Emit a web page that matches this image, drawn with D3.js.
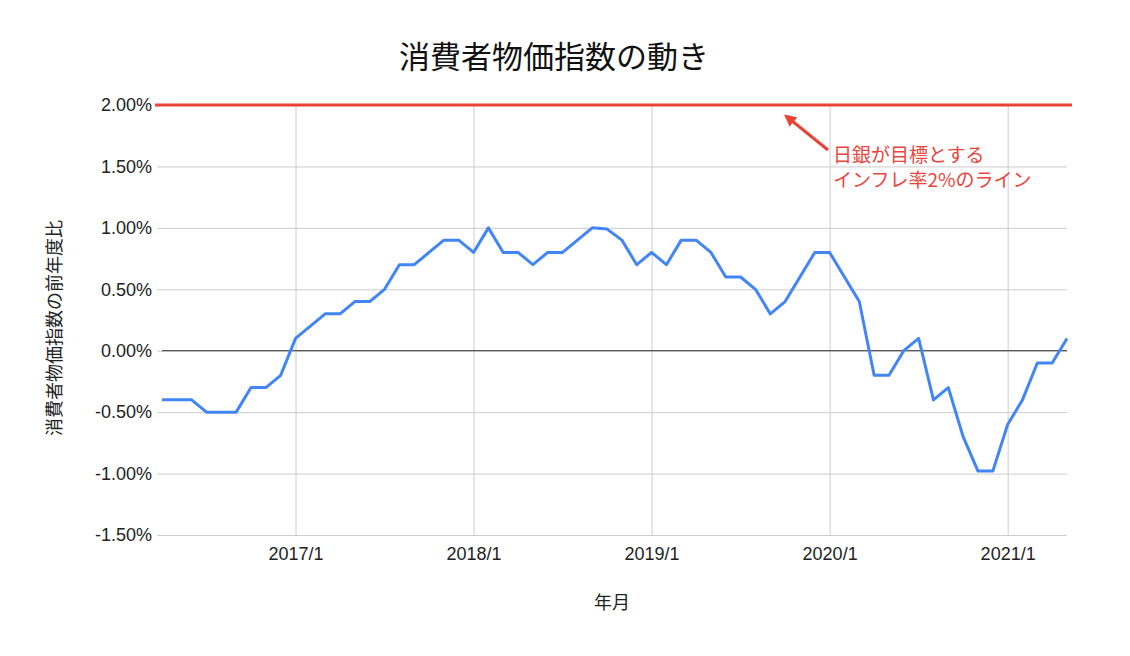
<!doctype html>
<html lang="ja">
<head>
<meta charset="utf-8">
<title>消費者物価指数の動き</title>
<script src="https://cdn.jsdelivr.net/npm/d3@7"></script>
<style>
  body { margin: 0; background: #fff; }
  text { font-family: "Liberation Sans", Arial, "Noto Sans CJK JP", sans-serif; }
  .jp { font-family: "Noto Sans CJK JP", sans-serif; }
</style>
</head>
<body>
<script>

// Data
var months = ["2016/4","2016/5","2016/6","2016/7","2016/8","2016/9","2016/10","2016/11","2016/12",
  "2017/1","2017/2","2017/3","2017/4","2017/5","2017/6","2017/7","2017/8","2017/9","2017/10","2017/11","2017/12",
  "2018/1","2018/2","2018/3","2018/4","2018/5","2018/6","2018/7","2018/8","2018/9","2018/10","2018/11","2018/12",
  "2019/1","2019/2","2019/3","2019/4","2019/5","2019/6","2019/7","2019/8","2019/9","2019/10","2019/11","2019/12",
  "2020/1","2020/2","2020/3","2020/4","2020/5","2020/6","2020/7","2020/8","2020/9","2020/10","2020/11","2020/12",
  "2021/1","2021/2","2021/3","2021/4","2021/5"];
var cpi = [-0.4,-0.4,-0.4,-0.5,-0.5,-0.5,-0.3,-0.3,-0.2,
  0.1,0.2,0.3,0.3,0.4,0.4,0.5,0.7,0.7,0.8,0.9,0.9,
  0.8,1.0,0.8,0.8,0.7,0.8,0.8,0.9,1.0,0.99,0.9,0.7,
  0.8,0.7,0.9,0.9,0.8,0.6,0.6,0.5,0.3,0.4,0.6,0.8,
  0.8,0.6,0.4,-0.2,-0.2,0.0,0.1,-0.4,-0.3,-0.7,-0.98,-0.98,
  -0.6,-0.4,-0.1,-0.1,0.1];
var target = 2.0;
var yTicks = [-1.5,-1.0,-0.5,0,0.5,1.0,1.5,2.0];
var xTicks = ["2017/1","2018/1","2019/1","2020/1","2021/1"];

var title = "消費者物価指数の動き";
var yTitle = "消費者物価指数の前年度比";
var xTitle = "年月";
var note = ["日銀が目標とする", "インフレ率2%のライン"];

// month string -> month count (evenly spaced like the original)
var monthIndex = function(s) {
  var p = s.split("/");
  return (+p[0]) * 12 + (+p[1] - 1);
};
var dataset = months.map(function(m, i) { return {m: monthIndex(m), value: cpi[i]}; });

// Graphics
var width = 1130, height = 656;
var plot = {left: 162, right: 1067, top: 105, bottom: 535};

var svg = d3.select("body").append("svg")
  .attr("width", width)
  .attr("height", height);

var xScale = d3.scaleLinear()
  .domain(d3.extent(dataset, function(d) { return d.m; }))
  .range([plot.left, plot.right]);

var yScale = d3.scaleLinear()
  .domain([-1.5, 2.0])
  .range([plot.bottom, plot.top]);

// Grid + y axis
var yAxis = d3.axisLeft(yScale)
  .tickValues(yTicks)
  .tickSize(0)
  .tickPadding(10)
  .tickFormat(function(d) { return d.toFixed(2) + "%"; });

var gy = svg.append("g")
  .attr("transform", "translate(" + plot.left + ",0)")
  .call(yAxis);
gy.select(".domain").remove();
gy.selectAll("line")
  .attr("stroke", "#cccccc")
  .attr("x1", -5)
  .attr("x2", plot.right - plot.left);
gy.selectAll("text").attr("font-size", 18).attr("fill", "#222").attr("x", -10);

// x axis
var xAxis = d3.axisBottom(xScale)
  .tickValues(xTicks.map(monthIndex))
  .tickSize(-(plot.bottom - plot.top))
  .tickPadding(12)
  .tickFormat(function(d) { return Math.floor(d / 12) + "/" + (d % 12 + 1); });

var gx = svg.append("g")
  .attr("transform", "translate(0," + plot.bottom + ")")
  .call(xAxis);
gx.select(".domain").remove();
gx.selectAll("line").attr("stroke", "#cccccc");
gx.selectAll("text").attr("font-size", 18).attr("fill", "#222");

// zero baseline
svg.append("line")
  .attr("x1", plot.left).attr("x2", plot.right)
  .attr("y1", yScale(0)).attr("y2", yScale(0))
  .attr("stroke", "#333").attr("stroke-width", 1);

// 2% target line
svg.append("line")
  .attr("x1", plot.left - 7).attr("x2", plot.right + 5)
  .attr("y1", yScale(target)).attr("y2", yScale(target))
  .attr("stroke", "#ea4335").attr("stroke-width", 3);

// CPI line
var line = d3.line()
  .x(function(d) { return xScale(d.m); })
  .y(function(d) { return yScale(d.value); });

svg.append("path")
  .datum(dataset)
  .attr("fill", "none")
  .attr("stroke", "#4285f4")
  .attr("stroke-width", 3)
  .attr("stroke-linejoin", "round")
  .attr("d", line);

// Annotation
svg.append("defs").append("marker")
  .attr("id", "arrow")
  .attr("viewBox", "0 0 10 10")
  .attr("refX", 8).attr("refY", 5)
  .attr("markerWidth", 4).attr("markerHeight", 4)
  .attr("orient", "auto")
  .append("path")
  .attr("d", "M0,0L10,5L0,10z")
  .attr("fill", "#ea4335");

svg.append("line")
  .attr("x1", 828).attr("y1", 150)
  .attr("x2", 786).attr("y2", 116)
  .attr("stroke", "#ea4335").attr("stroke-width", 3)
  .attr("marker-end", "url(#arrow)");

svg.append("text")
  .attr("class", "jp")
  .attr("x", 833).attr("y", 162)
  .attr("font-size", 19)
  .attr("fill", "#e8453c")
  .selectAll("tspan")
  .data(note)
  .enter().append("tspan")
  .attr("x", 833)
  .attr("dy", function(d, i) { return i ? 25 : 0; })
  .text(function(d) { return d; });

// Titles
svg.append("text")
  .attr("class", "jp")
  .attr("x", 554).attr("y", 68)
  .attr("text-anchor", "middle")
  .attr("font-size", 31)
  .attr("fill", "#111")
  .text(title);

svg.append("text")
  .attr("class", "jp")
  .attr("transform", "translate(61,328) rotate(-90)")
  .attr("text-anchor", "middle")
  .attr("font-size", 18)
  .attr("fill", "#222")
  .text(yTitle);

svg.append("text")
  .attr("class", "jp")
  .attr("x", 612).attr("y", 609)
  .attr("text-anchor", "middle")
  .attr("font-size", 18)
  .attr("fill", "#222")
  .text(xTitle);

</script>
</body>
</html>
